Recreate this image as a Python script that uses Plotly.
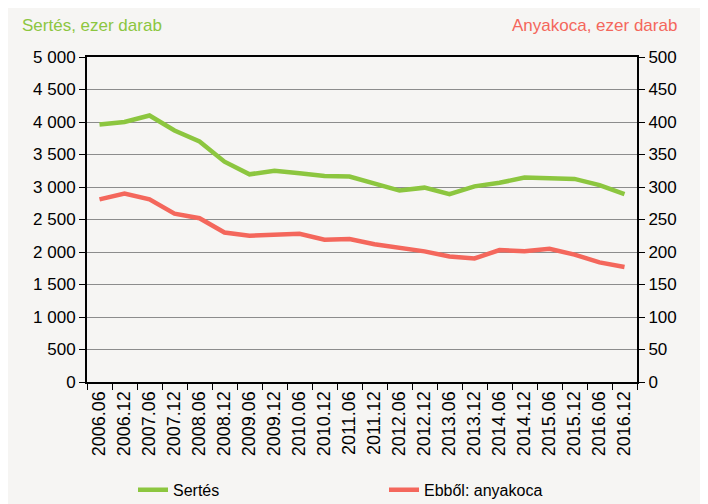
import plotly.graph_objects as go

# időszakok (félévente)
periods = [
    "2006.06", "2006.12", "2007.06", "2007.12", "2008.06", "2008.12",
    "2009.06", "2009.12", "2010.06", "2010.12", "2011.06", "2011.12",
    "2012.06", "2012.12", "2013.06", "2013.12", "2014.06", "2014.12",
    "2015.06", "2015.12", "2016.06", "2016.12",
]

# sertésállomány, ezer darab (bal tengely)
sertes = [
    3960, 4000, 4100, 3870, 3700, 3390, 3195, 3250, 3210, 3170, 3160,
    3055, 2945, 2990, 2890, 3010, 3065, 3145, 3130, 3125, 3030, 2890,
]

# ebből anyakoca, ezer darab (jobb tengely)
anyakoca = [
    281, 290, 281, 259, 252, 230, 225, 226, 228, 219, 220,
    212, 207, 201, 193, 190, 203, 201, 205, 196, 184, 177,
]

GREEN = "#8cc63f"
RED = "#f4675c"
BG = "#f6f5f3"
FONT = "Liberation Sans, Arial, sans-serif"

fig = go.Figure()
fig.add_trace(go.Scatter(
    x=periods, y=sertes, name="Sertés", mode="lines",
    line=dict(color=GREEN, width=4.5),
))
fig.add_trace(go.Scatter(
    x=periods, y=anyakoca, name="Ebből: anyakoca", mode="lines",
    line=dict(color=RED, width=4.5), yaxis="y2",
))

# a margók a böngésző body-margóját is ellensúlyozzák
fig.update_layout(
    width=708,
    height=504,
    margin=dict(l=79, r=79, t=49, b=130),
    paper_bgcolor=BG,
    plot_bgcolor=BG,
    separators=", ",
    font=dict(family=FONT, size=17, color="#000"),
    showlegend=True,
    legend=dict(
        orientation="h", x=0.54, xanchor="center",
        yref="container", y=0.044, yanchor="middle",
        bgcolor="rgba(0,0,0,0)", entrywidth=206, font=dict(size=16),
    ),
    xaxis=dict(
        type="category", range=[-0.5, 21.5], automargin=False,
        showline=True, linecolor="#000", linewidth=2, mirror=True,
        ticks="outside", tickson="boundaries", ticklen=6, tickcolor="#000",
        tickangle=-90, tickfont=dict(size=18),
        showgrid=False,
    ),
    yaxis=dict(
        range=[0, 5000], dtick=500, tickformat=",d", automargin=False,
        showline=True, linecolor="#000", linewidth=2,
        ticks="outside", ticklen=6, tickcolor="#000",
        showgrid=True, gridcolor="#8c8c8c", gridwidth=1, zeroline=False,
    ),
    yaxis2=dict(
        range=[0, 500], dtick=50, overlaying="y", side="right", automargin=False,
        showline=True, linecolor="#000", linewidth=2,
        ticks="outside", ticklen=6, tickcolor="#000",
        showgrid=False, zeroline=False,
    ),
    annotations=[
        dict(text="Sertés, ezer darab", xref="paper", yref="paper",
             x=-0.1225, y=1.098, xanchor="left", yanchor="middle",
             showarrow=False, font=dict(color=GREEN, size=17)),
        dict(text="Anyakoca, ezer darab", xref="paper", yref="paper",
             x=1.0764, y=1.098, xanchor="right", yanchor="middle",
             showarrow=False, font=dict(color=RED, size=17)),
    ],
)

fig.write_html("out.html")
